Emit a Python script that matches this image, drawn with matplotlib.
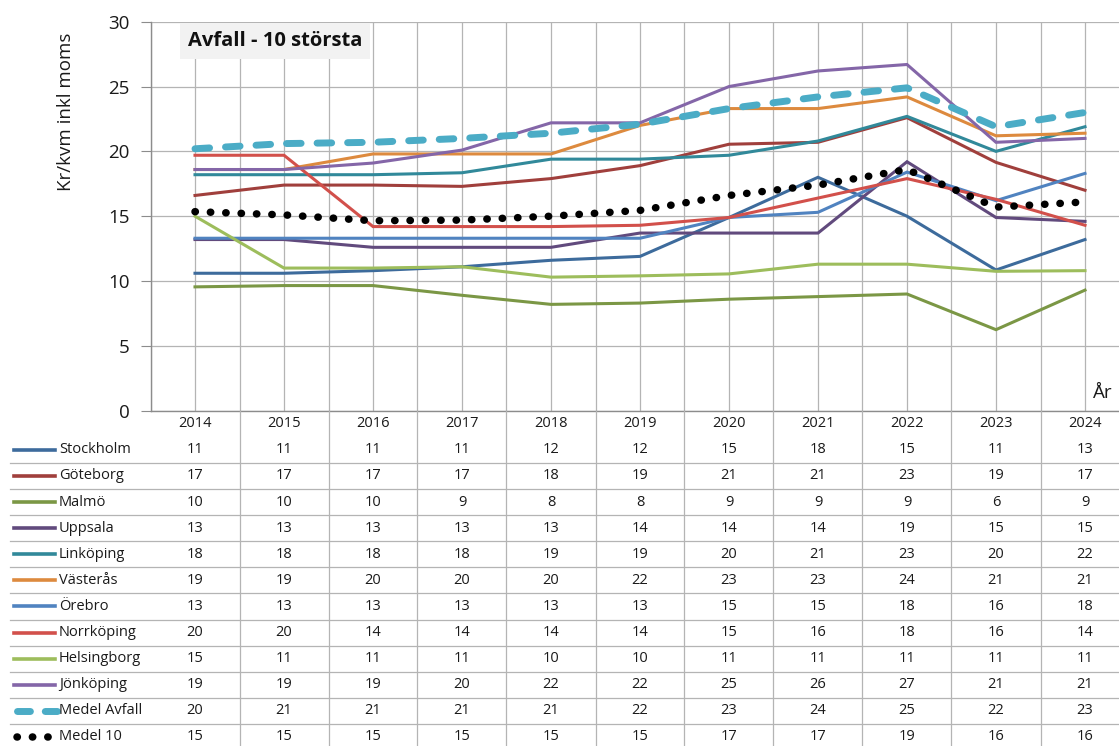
import matplotlib
matplotlib.use("Agg")
import matplotlib.pyplot as plt

plt.rcParams["font.family"] = ["Open Sans", "DejaVu Sans"]

years = ["2014", "2015", "2016", "2017", "2018", "2019", "2020", "2021", "2022", "2023", "2024"]

stockholm = [10.6, 10.6, 10.8, 11.1, 11.6, 11.9, 14.9, 18.0, 15.0, 10.85, 13.2]
goteborg = [16.6, 17.4, 17.4, 17.3, 17.9, 18.9, 20.55, 20.7, 22.6, 19.15, 17.0]
malmo = [9.55, 9.65, 9.65, 8.9, 8.2, 8.3, 8.6, 8.8, 9.0, 6.25, 9.3]
uppsala = [13.2, 13.2, 12.6, 12.6, 12.6, 13.7, 13.7, 13.7, 19.2, 14.9, 14.6]
linkoping = [18.2, 18.2, 18.2, 18.35, 19.4, 19.4, 19.7, 20.8, 22.7, 20.0, 21.9]
vasteras = [18.6, 18.6, 19.8, 19.8, 19.8, 22.0, 23.3, 23.3, 24.2, 21.2, 21.4]
orebro = [13.3, 13.3, 13.3, 13.3, 13.3, 13.3, 14.9, 15.3, 18.4, 16.2, 18.3]
norrkoping = [19.7, 19.7, 14.2, 14.2, 14.2, 14.3, 14.9, 16.4, 17.9, 16.3, 14.3]
helsingborg = [15.0, 11.0, 11.0, 11.1, 10.3, 10.4, 10.55, 11.3, 11.3, 10.75, 10.8]
jonkoping = [18.6, 18.6, 19.1, 20.1, 22.2, 22.2, 25.0, 26.2, 26.7, 20.7, 21.0]
medel_avfall = [20.2, 20.6, 20.7, 21.0, 21.4, 22.1, 23.3, 24.2, 24.9, 21.9, 23.0]
medel_10 = [15.35, 15.1, 14.65, 14.7, 15.0, 15.45, 16.6, 17.4, 18.6, 15.7, 16.1]

# name, values, colour, style
SERIES = [
    ("Stockholm", stockholm, "#3d6b9c", "solid"),
    ("Göteborg", goteborg, "#a03f3c", "solid"),
    ("Malmö", malmo, "#7b9745", "solid"),
    ("Uppsala", uppsala, "#614a7d", "solid"),
    ("Linköping", linkoping, "#31899a", "solid"),
    ("Västerås", vasteras, "#dd8a3e", "solid"),
    ("Örebro", orebro, "#5083c0", "solid"),
    ("Norrköping", norrkoping, "#d2504b", "solid"),
    ("Helsingborg", helsingborg, "#9dbd5c", "solid"),
    ("Jönköping", jonkoping, "#8466a8", "solid"),
    ("Medel Avfall", medel_avfall, "#4bacc6", "dash"),
    ("Medel 10", medel_10, "#000000", "dot"),
]

W, H = 1119, 746
GRID = "#b4b4b4"
TXT = "#1a1a1a"


def line_kw(color, style, key=False):
    if style == "dash":
        dashes = (1.86, 2.14) if key else (2.1, 2.3)
        return dict(color=color, linewidth=5.0, linestyle=(0, dashes),
                    dash_capstyle="round", solid_capstyle="round")
    if style == "dot":
        return dict(color=color, linewidth=5.4, linestyle=(0, (0.05, 2.0)),
                    dash_capstyle="round")
    return dict(color=color, linewidth=2.6 if key else 2.2, solid_joinstyle="miter")


fig = plt.figure(figsize=(W / 100, H / 100), dpi=100)

left, right, top, base = 150.5, 1129.5, 21.7, 410.7
ax = fig.add_axes([left / W, (H - base) / H, (right - left) / W, (base - top) / H])

xs = [i + 0.5 for i in range(len(years))]
for i, (name, vals, color, style) in enumerate(SERIES):
    ax.plot(xs, vals, zorder=3 + i, **line_kw(color, style))

ax.set_xlim(0, len(years))
ax.set_ylim(0, 30)
ax.set_yticks(range(0, 31, 5))
ax.set_xticks([i * 0.5 for i in range(2 * len(years) + 1)])
ax.tick_params(axis="x", length=0, labelbottom=False)
ax.tick_params(axis="y", length=7, color="#8c8c8c", pad=8, labelsize=13.5, labelcolor=TXT)
ax.grid(True, color=GRID, linewidth=0.9)
for s in ["top", "right"]:
    ax.spines[s].set_visible(False)
for s in ["left", "bottom"]:
    ax.spines[s].set_color("#8c8c8c")
    ax.spines[s].set_linewidth(1.0)
ax.set_axisbelow(True)

fig.text(1103 / W, 1 - 393 / H, "År", ha="center", va="center", fontsize=13.5, color=TXT)

# title box
fig.text(275 / W, 1 - 41 / H, "Avfall - 10 största", ha="center", va="center",
         fontsize=14.5, fontweight="bold", color="#111111",
         bbox=dict(boxstyle="square,pad=0.38", facecolor="#f2f2f2", edgecolor="none"))

fig.text(66 / W, 1 - 112 / H, "Kr/kvm inkl moms", rotation=90, ha="center", va="center",
         fontsize=13.5, color=TXT)

# data table below the plot
row_h = 26.1
tab = fig.add_axes([left / W, 0, (right - left) / W, (H - base) / H])
tab.set_xlim(0, len(years))
tab.set_ylim((H - base) / row_h, 0)
tab.axis("off")


def px2x(px):
    return (px - left) / 89.0


for k in range(1, len(years)):
    tab.plot([k, k], [0, 20], color=GRID, linewidth=0.9, clip_on=True)

for j, y in enumerate(years):
    tab.text(xs[j], 0.5, y, ha="center", va="center", fontsize=10.5, color=TXT)

for r, (name, vals, color, style) in enumerate(SERIES):
    yc = r + 1.5
    if r > 0:
        tab.plot([px2x(10), len(years) + 1], [r + 1, r + 1], color=GRID,
                 linewidth=0.9, clip_on=False)
    x0 = px2x(16.5) if style != "solid" else px2x(14)
    x1 = px2x(56.5) if style != "solid" else px2x(55)
    tab.plot([x0, x1], [yc, yc], clip_on=False, **line_kw(color, style, key=True))
    tab.text(px2x(59), yc, name, ha="left", va="center", fontsize=10.5, color=TXT)
    for j, v in enumerate(vals):
        tab.text(xs[j], yc, f"{v:.0f}", ha="center", va="center", fontsize=10.5, color=TXT)

fig.savefig("out.png", dpi=100)
